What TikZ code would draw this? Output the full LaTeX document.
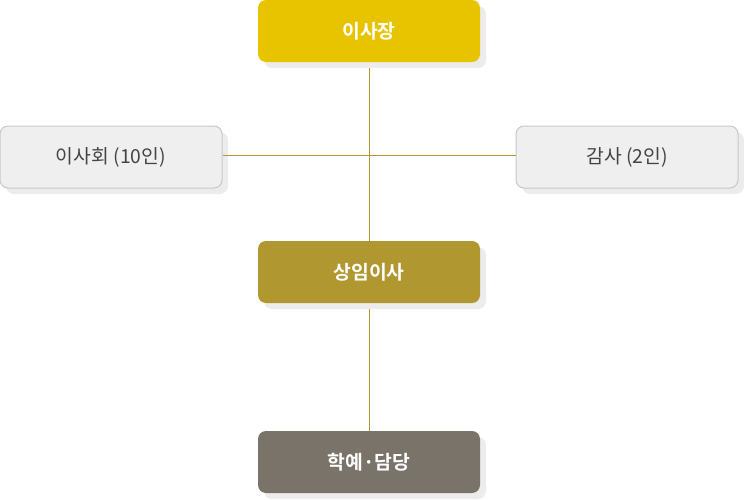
\documentclass[tikz,border=0pt]{standalone}
\usepackage{fontspec}
\newfontfamily\kr{Noto Sans CJK KR}
\newfontfamily\krb{Noto Sans CJK KR Bold}
\usetikzlibrary{shadows}
\definecolor{chair}{RGB}{232,196,0}
\definecolor{exec}{RGB}{176,151,48}
\definecolor{staff}{RGB}{122,115,106}
\definecolor{pale}{RGB}{239,239,239}
\definecolor{rim}{RGB}{200,200,200}
\definecolor{ink}{RGB}{68,68,68}
\definecolor{wire}{RGB}{176,151,48}
\definecolor{shade}{RGB}{236,236,236}

\begin{document}
\begin{tikzpicture}[x=0.75pt,y=-0.75pt,
  post/.style={rectangle, rounded corners=6pt, minimum width=166.5pt, minimum height=46.5pt,
    inner sep=0pt, drop shadow={shadow xshift=4.5pt, shadow yshift=-4.5pt, fill=shade, opacity=1}},
  headbox/.style={post, fill=#1, text=white, font=\krb\fontsize{14.5}{16}\selectfont},
  sidebox/.style={post, draw=rim, line width=0.75pt, fill=pale, text=ink, font=\kr\fontsize{14.5}{16}\selectfont},
  wireline/.style={color=wire, line width=1pt}]
\useasboundingbox (0,0) rectangle (744,500);

\node[headbox=chair] (chairman) at (369,31){이사장};
\node[sidebox] (board) at (111,157){이사회 (10인)};
\node[sidebox] (audit) at (627,157){감사 (2인)};
\node[headbox=exec] (director) at (369,272){상임이사};
\node[headbox=staff] (curator) at (369,462){학예·담당};

% connectors start below the shadows
\draw[wireline] ([shift={(0.375pt,-4.5pt)}]chairman.south) -- ([xshift=0.375pt]director.north);
\draw[wireline] ([shift={(0.375pt,-4.5pt)}]director.south) -- ([xshift=0.375pt]curator.north);
\draw[wireline] ([yshift=1.125pt]board.east) -- ([yshift=1.125pt]audit.west);

\end{tikzpicture}
\end{document}
